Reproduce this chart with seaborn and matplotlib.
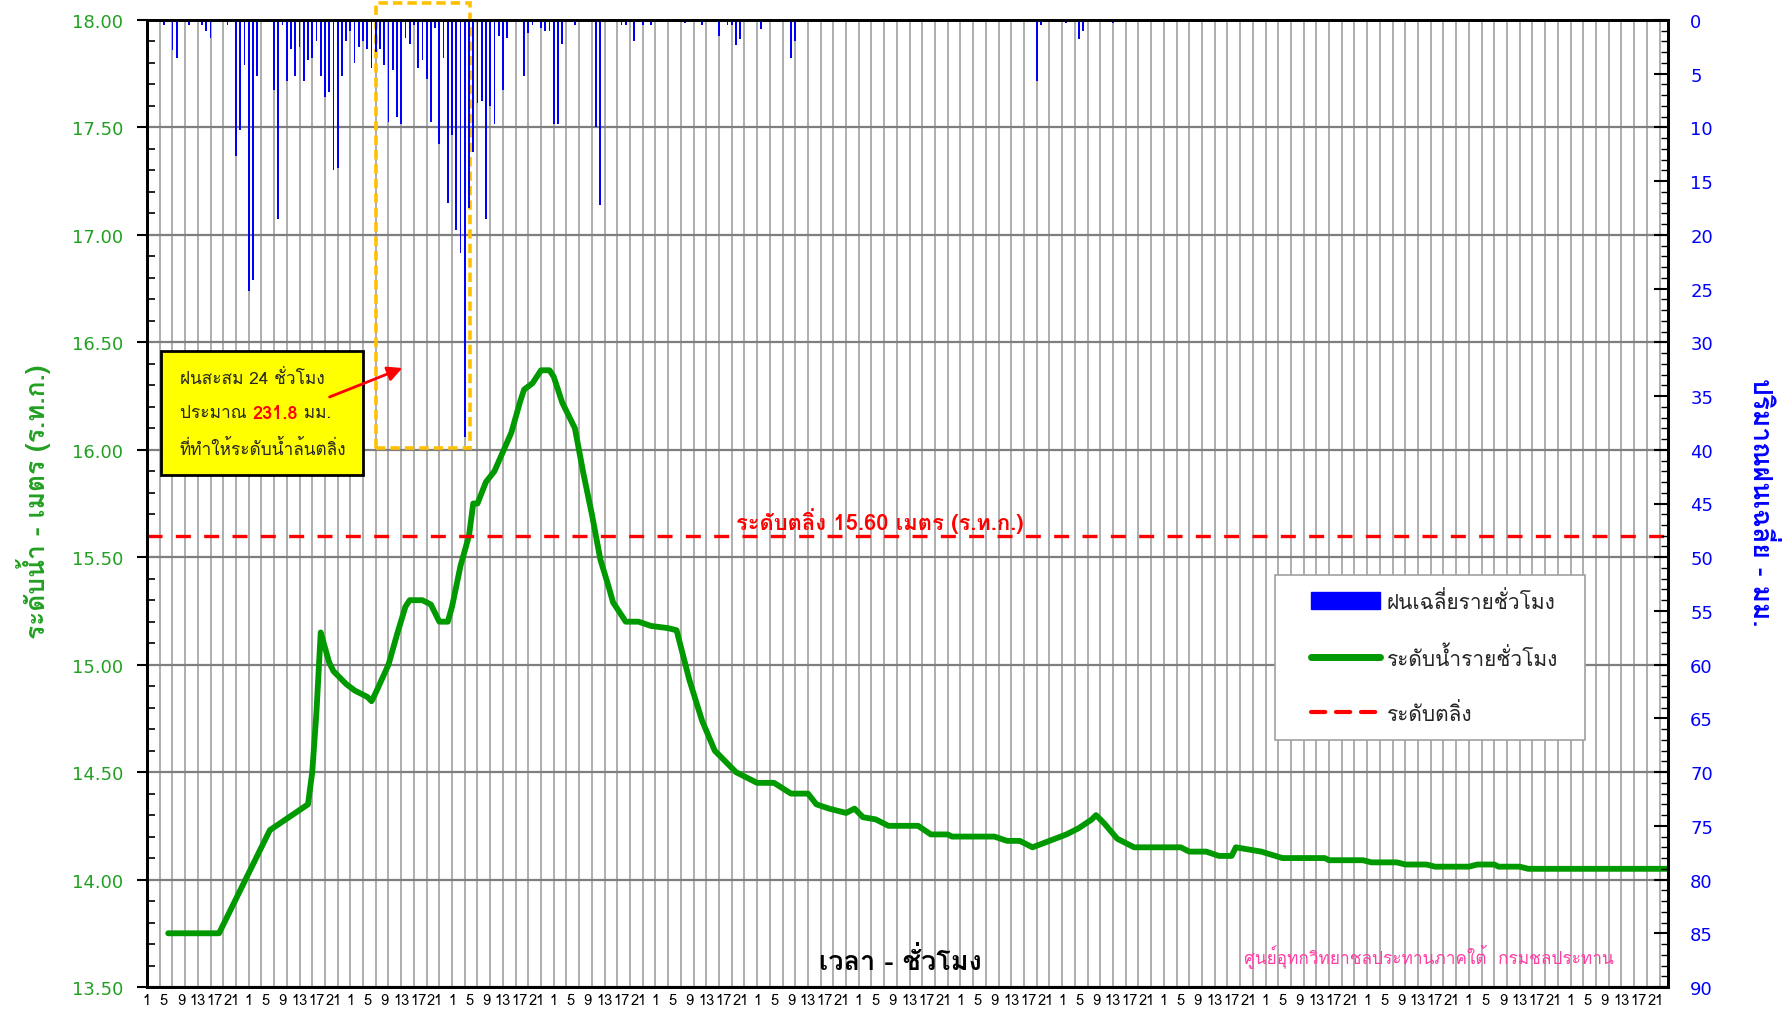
import numpy as np
import pandas as pd
import matplotlib
matplotlib.use("Agg")
import matplotlib.pyplot as plt
import matplotlib.font_manager as fm
from matplotlib import ft2font
from matplotlib.patches import Rectangle, Patch, FancyArrowPatch
from matplotlib.lines import Line2D
import seaborn as sns

# ---------------- data ----------------
n_hours = 360
hour_cycle_labels = ["1", "5", "9", "13", "17", "21"]

level_hours = [5, 17, 29, 32, 35, 38, 39, 40, 41, 42, 43, 44, 47, 49, 52, 53, 54, 57, 59, 61,
               62, 65, 67, 69, 71, 72, 74, 76, 77, 78, 80, 82, 84, 86, 88, 89, 91, 93, 95, 96,
               98, 101, 103, 105, 107, 109, 110, 113, 116, 119, 123, 125, 128, 131, 134, 136,
               139, 141, 144, 148, 152, 156, 158, 161, 165, 167, 169, 172, 175, 182, 185, 189,
               190, 200, 203, 206, 209, 213, 217, 220, 223, 224, 226, 229, 233, 244, 246, 250,
               253, 256, 257, 260, 263, 268, 278, 279, 287, 289, 295, 297, 302, 304, 312, 314,
               318, 319, 324, 326, 359]
level_values = [13.75, 13.75, 14.23, 14.27, 14.31, 14.35, 14.50, 14.78, 15.15, 15.08, 15.01, 14.97,
                14.91, 14.88, 14.85, 14.83, 14.87, 15.00, 15.14, 15.27, 15.30, 15.30, 15.28, 15.20,
                15.20, 15.27, 15.46, 15.60, 15.75, 15.75, 15.85, 15.90, 15.99, 16.08, 16.22, 16.28,
                16.31, 16.37, 16.37, 16.34, 16.22, 16.10, 15.89, 15.70, 15.49, 15.36, 15.29, 15.20,
                15.20, 15.18, 15.17, 15.16, 14.93, 14.74, 14.60, 14.56, 14.50, 14.48, 14.45, 14.45,
                14.40, 14.40, 14.35, 14.33, 14.31, 14.33, 14.29, 14.28, 14.25, 14.25, 14.21, 14.21,
                14.20, 14.20, 14.18, 14.18, 14.15, 14.18, 14.21, 14.24, 14.28, 14.30, 14.26, 14.19,
                14.15, 14.15, 14.13, 14.13, 14.11, 14.11, 14.15, 14.14, 14.13, 14.10, 14.10, 14.09,
                14.09, 14.08, 14.08, 14.07, 14.07, 14.06, 14.06, 14.07, 14.07, 14.06, 14.06, 14.05,
                14.05]

rain_hours = [4, 6, 7, 10, 12, 13, 14, 15, 19, 21, 22, 23, 24, 25, 26, 29, 30, 31, 32, 33, 34, 35,
              36, 37, 38, 39, 40, 41, 42, 43, 44, 45, 46, 47, 48, 49, 50, 51, 52, 53, 54, 55, 56,
              57, 58, 59, 60, 61, 62, 63, 64, 65, 66, 67, 68, 69, 70, 71, 72, 73, 74, 75, 76, 77,
              78, 79, 80, 81, 82, 83, 84, 85, 86, 88, 89, 90, 91, 92, 93, 94, 95, 96, 97, 98, 99,
              100, 101, 106, 107, 110, 112, 113, 115, 117, 119, 120, 127, 131, 135, 136, 137, 138,
              139, 140, 145, 150, 152, 153, 210, 211, 217, 220, 221, 228, 248, 272, 296, 320, 333,
              344]
rain_mm = [0.5, 2.8, 3.5, 0.5, 0.2, 0.5, 1.0, 1.7, 0.5, 12.7, 10.2, 4.2, 25.2, 24.2, 5.2, 0.2, 6.5,
           18.5, 0.5, 5.7, 2.7, 5.2, 2.5, 5.7, 3.7, 3.5, 2.0, 5.2, 7.2, 6.7, 14.0, 13.8, 5.2, 2.0,
           1.0, 4.0, 2.5, 2.0, 2.7, 4.5, 3.0, 2.7, 4.2, 9.5, 4.7, 9.0, 9.7, 1.7, 2.2, 0.5, 4.5, 3.7,
           5.5, 9.5, 0.7, 11.5, 3.5, 17.0, 10.7, 19.5, 21.7, 38.8, 17.5, 12.3, 7.7, 7.5, 18.5, 8.0,
           9.7, 1.5, 6.5, 1.7, 0.2, 0.2, 5.2, 1.2, 0.5, 0.2, 0.7, 1.0, 1.0, 9.7, 9.7, 2.2, 0.2, 0.2,
           0.5, 10.0, 17.2, 0.2, 0.5, 0.5, 2.0, 0.5, 0.5, 0.2, 0.3, 0.5, 1.5, 0.2, 0.5, 0.5, 2.3,
           1.8, 0.8, 0.2, 3.5, 2.0, 5.7, 0.5, 0.3, 1.8, 1.0, 0.3, 0.2, 0.2, 0.2, 0.2, 0.2, 0.2]

bank_level = 15.60
rain_24h_total = "231.8"
window_start, window_end = 54, 76.35

# ---------------- fonts ----------------
sns.set_theme(style="white")
thai_found = []
for f in fm.fontManager.ttflist:
    try:
        cmap = ft2font.FT2Font(f.fname).get_charmap()
    except Exception:
        continue
    if 0x0E01 in cmap and 0x0E49 in cmap:
        if f.name not in thai_found:
            thai_found.append(f.name)
pref = ["Tahoma", "Loma", "Noto Sans Thai", "Noto Sans Thai UI", "Garuda", "Sarabun"]
THAI = None
for p in pref:
    if p in thai_found:
        THAI = p
        break
if THAI is None and thai_found:
    THAI = thai_found[0]
families = ([THAI] if THAI else []) + ["DejaVu Sans"]
plt.rcParams["font.family"] = families

GREEN = "#009900"
GREEN_TXT = "#22A022"
BLUE = "#0000FF"
RED = "#FF0000"

W, H = 1788, 1012
fig = plt.figure(figsize=(W / 100, H / 100), dpi=100)
fig.patch.set_facecolor("white")

def fx(x):
    return x / W

def fy(y):
    return 1 - y / H

L, R, T, B = 147, 1668, 21, 988
ax = fig.add_axes([fx(L), fy(B), (R - L) / W, (B - T) / H])
ax.set_facecolor("white")
ax2 = ax.twinx()

# rain bars
rain_full = np.zeros(n_hours)
rain_full[np.array(rain_hours)] = rain_mm
df_rain = pd.DataFrame({"hour": np.arange(n_hours), "rain": rain_full})
sns.barplot(data=df_rain, x="hour", y="rain", native_scale=True, orient="x", width=0.42,
            color=BLUE, saturation=1, errorbar=None, linewidth=0, ax=ax2)

# water level line
df_lvl = pd.DataFrame({"hour": level_hours, "level": level_values})
sns.lineplot(data=df_lvl, x="hour", y="level", color=GREEN, lw=4.2, ax=ax,
             solid_joinstyle="round", solid_capstyle="round")
ax.axhline(bank_level, color=RED, lw=2.4, ls=(0, (4.5, 4)), zorder=3)

# axes limits & ticks
ax.set_xlim(0, n_hours - 1)
ax.set_ylim(13.5, 18.0)
ax2.set_ylim(90, 0)
ax2.set_xlim(0, n_hours - 1)

ax.xaxis.remove_overlapping_locs = False
ax.set_xticks(np.arange(0, n_hours, 3))
ax.set_xticklabels([])
lab_pos = np.arange(0, n_hours, 4)
ax.set_xticks(lab_pos, minor=True)
ax.set_xticklabels([hour_cycle_labels[i % 6] for i in range(len(lab_pos))], minor=True,
                   fontsize=10.5)
ax.tick_params(axis="x", which="major", direction="inout", length=10, width=1.3, color="black")
ax.tick_params(axis="x", which="minor", length=0, pad=4, labelcolor="black")

ax.set_yticks(np.arange(13.5, 18.01, 0.5))
ax.set_yticklabels([f"{v:.2f}" for v in np.arange(13.5, 18.01, 0.5)], family="DejaVu Sans")
ax.set_yticks(np.arange(13.5, 18.01, 0.1), minor=True)
ax.tick_params(axis="y", which="major", direction="out", length=7, width=1.5, color="black",
               labelcolor=GREEN_TXT, labelsize=13, pad=10, left=True)
ax.tick_params(axis="y", which="minor", direction="in", length=6, width=1.2, color="black", left=True)

ax2.set_yticks(np.arange(0, 91, 5))
ax2.set_yticklabels([str(v) for v in range(0, 91, 5)], family="DejaVu Sans")
ax2.set_yticks(np.arange(0, 91, 1), minor=True)
ax2.tick_params(axis="y", which="major", direction="in", length=10, width=1.5, color="black",
                labelcolor=BLUE, labelsize=13, pad=16, right=True)
ax2.tick_params(axis="y", which="minor", direction="in", length=5, width=1.0, color="black", right=True)
ax2.set_xlabel("")
ax2.set_ylabel("")
ax.set_xlabel("")
ax.set_ylabel("")

ax.grid(False)
ax2.grid(False)
ax.grid(True, which="major", axis="x", color="#A8A8A8", lw=1.3)
ax.grid(True, which="major", axis="y", color="#7F7F7F", lw=1.6)
ax.set_axisbelow(True)

for a in (ax, ax2):
    for s in a.spines.values():
        s.set_color("black")
        s.set_linewidth(2)
        s.set_visible(True)

# orange dashed window
ax.add_patch(Rectangle((window_start, 16.01), window_end - window_start, 18.077 - 16.01,
                       fill=False, edgecolor="#FFC000", lw=2.6, ls=(0, (2.6, 1.4)),
                       clip_on=False, zorder=6))

# labels
fig.text(fx(34), fy(502), "ระดับน้ำ - เมตร (ร.ท.ก.)", rotation=90, color=GREEN_TXT,
         fontsize=19, fontweight="bold", ha="center", va="center")
fig.text(fx(1762), fy(502), "ปริมาณฝนเฉลี่ย - มม.", rotation=270, color=BLUE,
         fontsize=19, fontweight="bold", ha="center", va="center")
fig.text(fx(900), fy(961), "เวลา - ชั่วโมง", color="black", fontsize=19.5, fontweight="bold",
         ha="center", va="center")
fig.text(fx(1429), fy(956), "ศูนย์อุทกวิทยาชลประทานภาคใต้  กรมชลประทาน", color="#FF3EA5",
         fontsize=12.4, ha="center", va="center")
fig.text(fx(880), fy(521), f"ระดับตลิ่ง {bank_level:.2f} เมตร (ร.ท.ก.)", color=RED,
         fontsize=15.8, fontweight="bold", ha="center", va="center")

# yellow annotation box
fig.add_artist(Rectangle((fx(161), fy(476)), (363 - 161) / W, (476 - 352) / H,
                         transform=fig.transFigure, facecolor="#FFFF00", edgecolor="black",
                         lw=2, zorder=5))
fs_box = 12.4
fig.text(fx(180), fy(379), "ฝนสะสม 24 ชั่วโมง", fontsize=fs_box, ha="left", va="center", zorder=6)
t1 = fig.text(fx(180), fy(414), "ประมาณ ", fontsize=fs_box, ha="left", va="center", zorder=6)
renderer = fig.canvas.get_renderer()
bb = t1.get_window_extent(renderer)
t2 = fig.text(bb.x1 / W, fy(414), rain_24h_total, fontsize=fs_box + 0.6, color=RED,
              fontweight="bold", ha="left", va="center", zorder=6)
bb2 = t2.get_window_extent(renderer)
fig.text(bb2.x1 / W, fy(414), " มม.", fontsize=fs_box, ha="left", va="center", zorder=6)
fig.text(fx(180), fy(449), "ที่ทำให้ระดับน้ำล้นตลิ่ง", fontsize=fs_box, ha="left", va="center", zorder=6)

fig.add_artist(FancyArrowPatch((fx(327), fy(399)), (fx(405), fy(368)), transform=fig.transFigure,
                               arrowstyle="-|>", mutation_scale=22, color=RED, lw=2, zorder=7))

# legend (frame drawn separately for exact padding)
ax2.add_artist(Rectangle((fx(1275), fy(741)), (1585 - 1275) / W, (741 - 576) / H,
                         transform=fig.transFigure, facecolor="white", edgecolor="#A0A0A0",
                         lw=1.2, zorder=4, clip_on=False))
handles = [Patch(facecolor=BLUE, edgecolor=BLUE),
           Line2D([0], [0], color=GREEN, lw=5, solid_capstyle="round"),
           Line2D([0], [0], color=RED, lw=3, ls=(0, (3.4, 2.6)), dash_capstyle="round")]
labels = ["ฝนเฉลี่ยรายชั่วโมง", "ระดับน้ำรายชั่วโมง", "ระดับตลิ่ง"]
leg = ax2.legend(handles, labels, loc="upper left", bbox_to_anchor=(fx(1290), fy(570)),
                 bbox_transform=fig.transFigure, fontsize=15, frameon=False,
                 borderpad=1.0, borderaxespad=0,
                 labelspacing=1.6, handlelength=3.3, handleheight=0.9, handletextpad=0.35)
leg.set_zorder(5)

fig.savefig("out.png", dpi=100, facecolor="white")
